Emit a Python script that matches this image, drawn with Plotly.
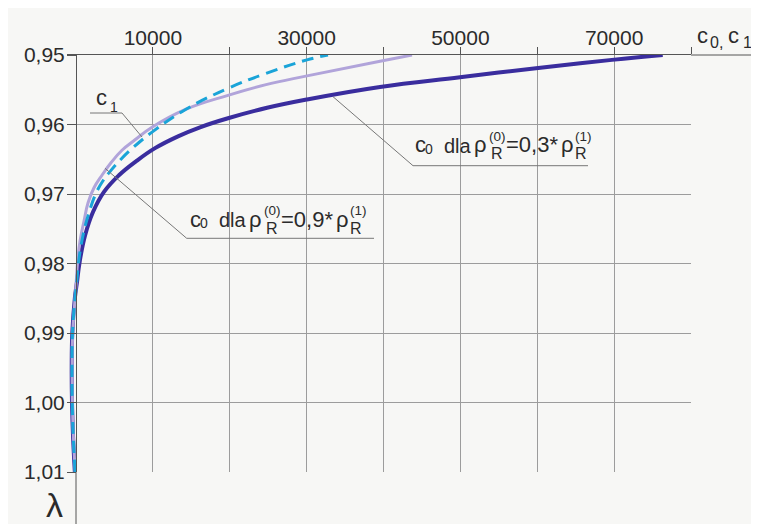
import plotly.graph_objects as go

# ---------------- data ----------------
# c1 curve
lam_c1 = [1.010, 1.005, 1.000, 0.995, 0.990, 0.985, 0.9825, 0.9799, 0.9768, 0.9739,
          0.9713, 0.9691, 0.9673, 0.9655, 0.9637, 0.9622, 0.9604, 0.9578, 0.9558,
          0.9543, 0.9530, 0.9509, 0.9500]
c_c1 = [-100, -330, -470, -500, -430, -120, 40, 195, 520, 1040,
        1560, 2340, 3380, 4550, 5980, 7680, 9890, 14310, 19770,
        24590, 30050, 39550, 43710]

# c0 for rho_R(0) = 0.9 * rho_R(1)  (dashed)
lam_c0_09 = [1.010, 1.005, 1.000, 0.995, 0.990, 0.985, 0.9825, 0.9799, 0.9763, 0.9729,
             0.9699, 0.9681, 0.9666, 0.9650, 0.9632, 0.9611, 0.9578, 0.9548, 0.9527,
             0.9507, 0.9500]
c_c0_09 = [-120, -350, -490, -520, -450, -130, 110, 325, 850, 1630,
           2600, 3510, 4550, 5850, 7550, 9890, 14310, 19770, 24590,
           30050, 32780]

# c0 for rho_R(0) = 0.3 * rho_R(1)
lam_c0_03 = [1.010, 1.005, 1.000, 0.995, 0.990, 0.985, 0.9825, 0.9799, 0.9760, 0.9726,
             0.9697, 0.9673, 0.9653, 0.9634, 0.9617, 0.9604, 0.9591, 0.9576, 0.9564,
             0.9546, 0.9532, 0.9519, 0.9507, 0.9500]
c_c0_03 = [-150, -380, -520, -560, -480, -150, 150, 455, 1170, 2210,
           3640, 5590, 7800, 10280, 13270, 16130, 19770, 24850, 30050,
           39550, 49950, 59840, 69720, 76320]

x_tick_vals = [10000, 20000, 30000, 40000, 50000, 60000, 70000, 80000]
x_tick_text = ["10000", "", "30000", "", "50000", "", "70000", ""]
y_tick_vals = [0.95, 0.96, 0.97, 0.98, 0.99, 1.00, 1.01]
y_tick_text = ["0,95", "0,96", "0,97", "0,98", "0,99", "1,00", "1,01"]

# ---------------- layout geometry (page pixels) ----------------
PAGE_W, PAGE_H = 759, 524
OFF = 8                              # default body margin of the html page
W, H = PAGE_W - OFF, PAGE_H - OFF
L, R, T, B = 67, 691, 55, 472        # plot area in page pixels
X0PX = 76                            # page pixel of c = 0 (the vertical axis)
XMAX = 80000
scale = XMAX / (R - X0PX)
XMIN = -(X0PX - L) * scale

FONT = "Liberation Sans, Arial, sans-serif"
TXT = "#2b2b2b"
GRID = "#9c9c9c"
AXIS = "#555555"
LEAD = "#777777"
BG = "#f7f7f5"

C_DARK = "#3a2d9e"
C_LIGHT = "#b1a4da"
C_CYAN = "#1aa4d8"
SMOOTH = 1.2


def px_x(px):
    return (px - L) / (R - L)


def px_y(py):
    return (B - py) / (B - T)


fig = go.Figure()
fig.add_trace(go.Scatter(x=c_c0_03, y=lam_c0_03, mode="lines", hoverinfo="skip",
                         line=dict(color=C_DARK, width=4, shape="spline", smoothing=SMOOTH)))
fig.add_trace(go.Scatter(x=c_c1, y=lam_c1, mode="lines", hoverinfo="skip",
                         line=dict(color=C_LIGHT, width=3, shape="spline", smoothing=SMOOTH)))
fig.add_trace(go.Scatter(x=c_c0_09, y=lam_c0_09, mode="lines", hoverinfo="skip",
                         line=dict(color=C_CYAN, width=3, dash="12px,7px",
                                   shape="spline", smoothing=SMOOTH)))

annotations = []


def ann(px, base, text, size):
    mid = base - 0.3465 * size
    annotations.append(dict(x=px_x(px - 2), y=px_y(mid), xref="paper", yref="paper",
                            text=text, showarrow=False, xanchor="left", yanchor="middle",
                            font=dict(size=size, family=FONT, color=TXT)))


def rho_label(s, b, mid_text):
    ann(s, b, "c", 22)
    ann(s + 10, b + 1.3, "0", 14)
    ann(s + 29, b, "dla", 20)
    ann(s + 59, b, "ρ", 22)
    ann(s + 74, b - 11.8, "(0)", 13.5)
    ann(s + 76, b + 6.6, "R", 16)
    ann(s + 91, b, mid_text, 22)
    ann(s + 146, b, "ρ", 22)
    ann(s + 160, b - 11.8, "(1)", 13.5)
    ann(s + 160, b + 6.6, "R", 16)


rho_label(189.5, 227, "=0,9*")
rho_label(415, 152.5, "=0,3*")

# c1 label
ann(96, 105, "c", 22)
ann(109.5, 111.7, "1", 14)
# axis titles
ann(696.5, 43.3, "c", 22)
ann(710, 48.3, "0,", 16)
ann(728, 43.3, "c", 22)
ann(743, 48.3, "1", 16)
ann(46, 516.5, "λ", 34)

shapes = []
# extension of top axis line to the right and vertical axis downwards
shapes.append(dict(type="line", xref="paper", yref="paper", x0=1, x1=px_x(PAGE_W + 2),
                   y0=1, y1=1, line=dict(color=AXIS, width=1)))
shapes.append(dict(type="line", xref="paper", yref="paper", x0=px_x(X0PX), x1=px_x(X0PX),
                   y0=0, y1=px_y(PAGE_H + 2), line=dict(color=AXIS, width=1)))


def leader(points):
    path = "M " + " L ".join(f"{px_x(a)},{px_y(b)}" for a, b in points)
    shapes.append(dict(type="path", xref="paper", yref="paper", path=path,
                       line=dict(color=LEAD, width=1)))


leader([(90, 113), (122, 113), (142, 137)])
leader([(105, 168.3), (186.7, 238.3), (374, 238.3)])
leader([(333, 96.7), (413, 165.7), (588, 165.7)])

fig.update_layout(
    width=W, height=H, autosize=False,
    margin=dict(l=L - OFF, r=PAGE_W - R, t=T - OFF, b=PAGE_H - B, pad=0),
    paper_bgcolor=BG, plot_bgcolor="rgba(0,0,0,0)",
    showlegend=False,
    annotations=annotations, shapes=shapes,
    xaxis=dict(side="top", range=[XMIN, XMAX], tickvals=x_tick_vals, ticktext=x_tick_text,
               showgrid=True, gridcolor=GRID, gridwidth=1, zeroline=False,
               showline=True, linecolor=AXIS, linewidth=1,
               ticks="outside", ticklen=7, tickcolor=AXIS, ticklabelstandoff=-6,
               tickfont=dict(size=21, family=FONT, color=TXT)),
    yaxis=dict(range=[1.01, 0.95], anchor="free", position=px_x(X0PX),
               tickvals=y_tick_vals, ticktext=y_tick_text,
               showgrid=True, gridcolor=GRID, gridwidth=1, zeroline=False,
               showline=True, linecolor=AXIS, linewidth=1,
               ticks="outside", ticklen=9, tickcolor=AXIS, ticklabelstandoff=-2,
               tickfont=dict(size=21, family=FONT, color=TXT)),
)

fig.write_html("out.html")
